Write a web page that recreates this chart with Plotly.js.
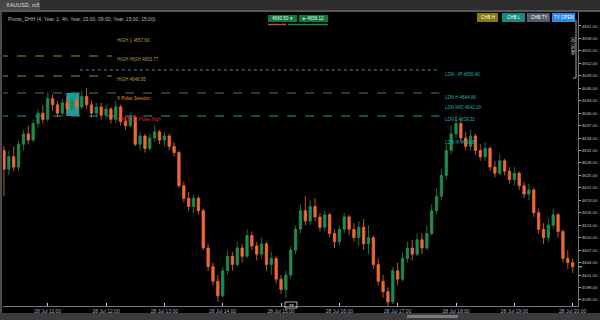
<!DOCTYPE html>
<html>
<head>
<meta charset="utf-8">
<script src="https://cdn.plot.ly/plotly-3.0.1.min.js"></script>
<style>
html,body{margin:0;padding:0;background:#000;overflow:hidden;}
#chart{width:600px;height:320px;}
</style>
</head>
<body>
<div id="chart"></div>
<script>
// ---- data ----
const symbol = "XAUUSD, m5";
const startTime = "2025-07-28 10:15";   // first candle
const stepMinutes = 5;
const openP  = [4631,4626.5,4629.5,4627,4632.5,4635,4633.5,4637.5,4640,4638.5,
  4643.5,4642,4640,4642.5,4641,4643,4641.5,4644,4642,4640,
  4641.5,4639.5,4641,4638.5,4641.5,4638,4637,4639,4632.5,4634.5,
  4631.5,4634,4635.5,4633.5,4634.5,4632,4630.5,4622.5,4619.5,4617.5,
  4619.5,4616.5,4607.5,4603,4599.5,4596,4602,4605.5,4603.5,4607.5,
  4605.5,4610.5,4608,4606,4608.5,4603.5,4605,4600,4597.5,4601,
  4607,4612,4616.5,4614,4617.5,4615,4612.5,4615.5,4611,4609,
  4612,4615,4612,4610,4612.5,4608.5,4610,4603.5,4599.5,4597,
  4594.5,4602,4600,4605,4607.5,4606,4609.5,4607.5,4611,4616.5,
  4620,4625,4631,4635,4637.5,4634,4632,4634.5,4631,4629.5,
  4631.5,4627,4625.5,4628.5,4626,4624,4625.5,4622.5,4620.5,4621.5,
  4616,4612,4610,4613,4615.5,4611.5,4605,4604];
const highP  = [4632,4631,4632,4633.5,4636,4637,4638.5,4641,4642,4645,
  4644.5,4643,4643.5,4644,4644,4644,4645.5,4646,4643,4642.5,
  4642.5,4642,4641.5,4643,4642,4639,4640,4639.5,4635.5,4635,
  4635,4637,4636,4635.5,4635,4633,4631,4623.5,4621,4620.5,
  4620,4617,4608.5,4604,4601,4603,4607,4606.5,4609,4608.5,
  4612,4611.5,4609,4610,4609,4606.5,4605.5,4601,4602,4608,
  4613,4618,4620,4619,4619.5,4616,4616.5,4616,4612,4613,
  4616,4615.5,4613.5,4614,4614.5,4613,4610.5,4605,4601,4598,
  4603,4604,4606.5,4609,4609.5,4611,4611,4613,4618,4622,
  4626.5,4632.5,4637,4639.5,4638.5,4635.5,4636,4635,4632.5,4633,
  4632,4628.5,4630,4629,4627,4627,4626,4623.5,4623,4622,
  4617,4613.5,4614.5,4617,4616,4612,4607,4605];
const lowP   = [4620,4625,4626,4626,4631,4632.5,4633,4636.5,4637.5,4638,
  4640.5,4639,4639.5,4640,4640.5,4640,4641,4641,4639,4639,
  4638.5,4638.5,4637.5,4637.5,4637,4636,4636.5,4632,4631,4630.5,
  4631,4633,4632.5,4632,4631,4629.5,4622,4618.5,4616.5,4616,
  4615.5,4607,4602,4598.5,4594.5,4595.5,4601,4602,4603,4604,
  4605,4607,4604.5,4605,4602,4601,4599,4596.5,4595.5,4600,
  4606,4611,4613,4613,4614,4611.5,4611.5,4610,4607.5,4608,
  4611,4610.5,4609,4608,4607,4606,4602.5,4598.5,4595.5,4593.5,
  4594,4598.5,4599.5,4604,4604.5,4605.5,4606,4607,4610.5,4615.5,
  4619,4624,4630,4634,4633,4631,4631,4630,4628.5,4628.5,
  4626,4624.5,4625,4625,4623,4622.5,4621.5,4619.5,4619,4615,
  4611,4608.5,4609,4612,4610,4604,4602.5,4601.5];
const closeP = [4626.5,4629.5,4627,4632.5,4635,4633.5,4637.5,4640,4638.5,4643.5,
  4642,4640,4642.5,4641,4643,4641.5,4644,4642,4640,4641.5,
  4639.5,4641,4638.5,4641.5,4638,4637,4639,4632.5,4634.5,4631.5,
  4634,4635.5,4633.5,4634.5,4632,4630.5,4622.5,4619.5,4617.5,4619.5,
  4616.5,4607.5,4603,4599.5,4596,4602,4605.5,4603.5,4607.5,4605.5,
  4610.5,4608,4606,4608.5,4603.5,4605,4600,4597.5,4601,4607,
  4612,4616.5,4614,4617.5,4615,4612.5,4615.5,4611,4609,4612,
  4615,4612,4610,4612.5,4608.5,4610,4603.5,4599.5,4597,4594.5,
  4602,4600,4605,4607.5,4606,4609.5,4607.5,4611,4616.5,4620,
  4625,4631,4635,4637.5,4634,4632,4634.5,4631,4629.5,4631.5,
  4627,4625.5,4628.5,4626,4624,4625.5,4622.5,4620.5,4621.5,4616,
  4612,4610,4613,4615.5,4611.5,4605,4604,4603];
const yTicks = [4661,4658,4655,4652,4649,4646,4643,4640,4637,4634,4631,4628,
  4625,4622,4619,4616,4613,4610,4607,4604,4601,4598,4595];

// levels: price, start, end
const levelPrice = [4653.77, 4650.40, 4648.95, 4644.86, 4639.31];
const levelStart = ["2025-07-28 10:10","2025-07-28 11:33","2025-07-28 10:10","2025-07-28 10:10","2025-07-28 10:10"];
const levelEnd   = ["2025-07-28 12:06","2025-07-28 17:43","2025-07-28 12:06","2025-07-28 17:43","2025-07-28 17:43"];
const leftLabels  = ["HIGH 1 4657.60","HIGH HIGH 4653.77","HIGH 4648.95"];
const rightLabels = ["LDN - IP 4650.40","LDN H 4644.86","LDN MID 4642.10","LDN L 4639.31","LDN IP 4633.80"];
const zoneStart = "2025-07-28 11:19", zoneEnd = "2025-07-28 11:32:30";
const zoneLow = 4639.31, zoneHigh = 4644.86;

// ---- build times ----
function timeAt(i){
  const [d,t] = startTime.split(" ");
  const [h,m] = t.split(":").map(Number);
  const tot = h*60+m+i*stepMinutes;
  const hh = String(Math.floor(tot/60)).padStart(2,"0");
  const mm = String(tot%60).padStart(2,"0");
  return d+" "+hh+":"+mm;
}
const times = closeP.map((_,i)=>timeAt(i));

// ---- geometry helpers (UI decorations only) ----
const M = {l:3, r:22, t:12, b:14};
const PW = 600-M.l-M.r, PH = 320-M.t-M.b;
const px = x => (x-M.l)/PW;
const py = y => 1-(y-M.t)/PH;

const FONT = "Liberation Sans, Arial, sans-serif";
const UP = "#1f8c4e", DN = "#f06a30";

const trace = {
  type:"candlestick", x:times, open:openP, high:highP, low:lowP, close:closeP,
  increasing:{line:{color:UP,width:0.8},fillcolor:UP},
  decreasing:{line:{color:DN,width:0.8},fillcolor:DN},
  whiskerwidth:0, hoverinfo:"skip", showlegend:false
};

const levelColors = ["#9a8a30","#4f8c8c","#9a8a30","#5e6e6e","#1aa0a0"];
const levelDash = ["dash","dot","dash","dash","dash"];
const shapes = [];
shapes.push({type:"rect",xref:"x",yref:"y",x0:zoneStart,x1:zoneEnd,y0:zoneLow,y1:zoneHigh,
  fillcolor:"#1a9d9a",line:{width:0},layer:"below"});
levelPrice.forEach((p,k)=>{
  shapes.push({type:"line",xref:"x",yref:"y",x0:levelStart[k],x1:levelEnd[k],y0:p,y1:p,
    line:{color:levelColors[k],width:1,dash:levelDash[k]},layer:"below"});
});
const rectPx = (x0,y0,x1,y1,fill,extra) => Object.assign({type:"rect",xref:"paper",yref:"paper",
  x0:px(x0),x1:px(x1),y0:py(y1),y1:py(y0),fillcolor:fill,line:{width:0},layer:"above"},extra||{});
const linePx = (x0,y0,x1,y1,color,w) => ({type:"line",xref:"paper",yref:"paper",
  x0:px(x0),x1:px(x1),y0:py(y0),y1:py(y1),line:{color:color,width:w||1},layer:"above"});
shapes.push(rectPx(0,0,600,10,"#2d2d2d"));
shapes.push(rectPx(0,0,40,10,"#474747"));
shapes.push(rectPx(0,10,600,12,"#575757"));
shapes.push(rectPx(0,12,2,320,"#4a4a4a"));
shapes.push(rectPx(0,313,600,320,"#3b3b3b"));
shapes.push(rectPx(407,315,458,318,"#7a7a7a"));
shapes.push(rectPx(268,15,297,22,"#10783c"));
shapes.push(rectPx(299,15,328,22,"#10783c"));
shapes.push(linePx(268,24.5,286,24.5,"#c2502c",1.5));
shapes.push(linePx(288,24.5,328,24.5,"#1a8a3e",1.5));
const btn = [[477,498,"#8a7812","CHB H"],[502,525,"#138a80","CHB L"],[527,550,"#515b69","CHB TY"],[552,575,"#2a8ae8","TY OPEN"]];
btn.forEach(b=>shapes.push(rectPx(b[0],13,b[1],22,b[2])));
shapes.push(linePx(576,20,576,78,"#aaaaaa",1));
shapes.push(linePx(573,78,576,78,"#aaaaaa",1));
shapes.push(Object.assign(rectPx(285,302,297,308,"rgba(0,0,0,0)"),{line:{color:"#dddddd",width:0.8}}));
shapes.push({type:"line",xref:"paper",yref:"y",x0:px(578),x1:px(582),y0:closeP[closeP.length-1],y1:closeP[closeP.length-1],
  line:{color:"#2fbf6a",width:1.5},layer:"above"});

const ann = [];
const txt = (x,y,t,color,size,opts) => ann.push(Object.assign({xref:"paper",yref:"paper",x:px(x),y:py(y),
  text:t,showarrow:false,xanchor:"left",yanchor:"middle",font:{family:FONT,size:size||5,color:color}},opts||{}));
txt(4,5,symbol,"#dddddd",5.5);
txt(6,19,"Pivots_DHH (4, Year, 1, 4h, Year, 15:00, 09:00, Year, 15:00, 15:00)","#b5b5b5",5);
txt(270,18.5,"4660.50 ▾","#e8f5e8",4.5);
txt(301,18.5,"▸ 4656.12","#e8f5e8",4.5);
btn.forEach(b=>txt((b[0]+b[1])/2,17.5,b[3],"#ffffff",4.5,{xanchor:"center"}));
txt(115,40,leftLabels[0],"#b39b45",4.5);
txt(115,60,leftLabels[1],"#b39b45",4.5);
txt(115,79,leftLabels[2],"#b39b45",4.5);
txt(115,98,"X Pulse Session","#e8901e",4.5);
txt(115,120,"X 4639.31 Pulse High","#e02222",4.5);
const rY = [74,97,108,120,142];
rightLabels.forEach((t,k)=>txt(443,rY[k],t,"#1fb0b0",4.5));
txt(573,46,"4650.00","#cccccc",5,{xanchor:"center",textangle:-90});
txt(291,305,"◂ ▸","#dddddd",3.5,{xanchor:"center"});

const layout = {
  width:600,height:320,margin:M,
  paper_bgcolor:"#000",plot_bgcolor:"#000",
  font:{family:FONT,color:"#aab8c8"},
  showlegend:false,
  xaxis:{type:"date",range:["2025-07-28 10:14","2025-07-28 20:05:30"],
    rangeslider:{visible:false},showgrid:false,zeroline:false,
    tick0:"2025-07-28 11:00",dtick:3600000,tickformat:"%d %b %H:%M",
    ticks:"inside",ticklen:3,tickcolor:"#cccccc",
    tickfont:{size:5,color:"#9fb3c8"},
    showline:true,linecolor:"#777777",linewidth:1},
  yaxis:{side:"right",range:[4593.53,4664.37],showgrid:false,zeroline:false,
    tickvals:yTicks,tickformat:".2f",ticks:"outside",ticklen:2,tickcolor:"#aaaaaa",
    tickfont:{size:4.3,color:"#b8c6d6"},
    showline:true,linecolor:"#777777",linewidth:1},
  shapes:shapes,annotations:ann
};
Plotly.newPlot("chart",[trace],layout,{displayModeBar:false,staticPlot:true});
</script>
</body>
</html>
